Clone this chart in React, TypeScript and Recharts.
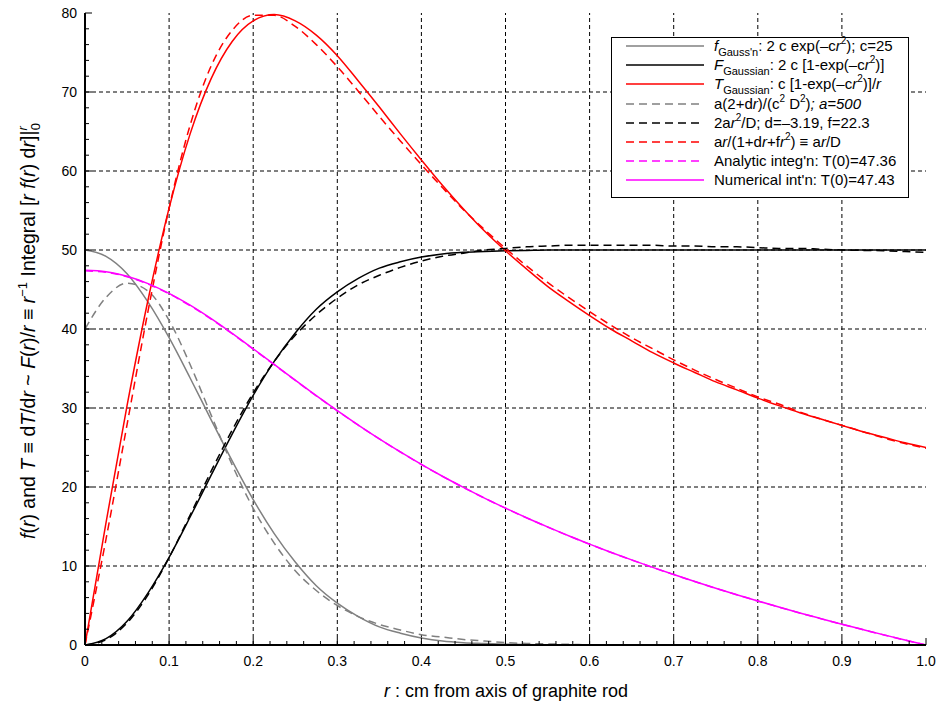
import React from 'react';
import { LineChart, Line, XAxis, YAxis, ReferenceLine } from 'recharts';

// r in cm, sampled every 0.025
const R = [
  0, 0.025, 0.05, 0.075, 0.1, 0.125, 0.15, 0.175, 0.2, 0.225, 0.25, 0.275, 0.3, 0.325,
  0.35, 0.375, 0.4, 0.425, 0.45, 0.475, 0.5, 0.525, 0.55, 0.575, 0.6, 0.625, 0.65, 0.675,
  0.7, 0.725, 0.75, 0.775, 0.8, 0.825, 0.85, 0.875, 0.9, 0.925, 0.95, 0.975, 1.0,
];

// gray solid: f Gauss'n
const F_GAUSS_N = [
  50, 49.2, 47.0, 43.4, 38.9, 33.8, 28.5, 23.3, 18.4, 14.1, 10.5, 7.5, 5.3, 3.6, 2.3, 1.5,
  0.9, 0.5, 0.3, 0.2, 0.1, 0.05, 0.03, 0.01, 0,
];
// gray dashed: a(2+dr)/(c^2 D^2)
const F_FIT = [
  40.0, 44.0, 45.8, 44.8, 41.1, 35.5, 29.1, 22.8, 17.3, 12.9, 9.4, 6.9, 5.0, 3.6, 2.6, 1.9,
  1.3, 1.0, 0.7, 0.5, 0.3, 0.2, 0.14, 0.08, 0.03,
];
// black solid: F Gaussian
const BIG_F_GAUSS = [
  0, 0.8, 3.0, 6.6, 11.1, 16.2, 21.5, 26.7, 31.6, 35.9, 39.5, 42.5, 44.7, 46.4, 47.7, 48.5,
  49.1, 49.5, 49.7, 49.8, 49.9, 49.95, 50, 50, 50, 50, 50, 50, 50, 50, 50, 50, 50, 50, 50,
  50, 50, 50, 50, 50, 50,
];
// black dashed: 2ar^2/D
const BIG_F_FIT = [
  0, 0.67, 2.79, 6.35, 11.06, 16.45, 22.0, 27.2, 31.9, 35.9, 39.2, 41.8, 43.9, 45.6, 46.8,
  47.8, 48.6, 49.2, 49.6, 50.0, 50.2, 50.4, 50.5, 50.6, 50.6, 50.6, 50.6, 50.6, 50.5, 50.5,
  50.4, 50.4, 50.3, 50.2, 50.2, 50.1, 50.0, 49.95, 49.9, 49.8, 49.7,
];
// red solid: T Gaussian
const T_GAUSS = [
  0, 15.5, 30.3, 43.7, 55.3, 64.7, 71.7, 76.4, 79.0, 79.8, 79.0, 77.2, 74.6, 71.4, 68.1,
  64.7, 61.4, 58.2, 55.2, 52.4, 49.9, 47.6, 45.4, 43.5, 41.7, 40.0, 38.5, 37.0, 35.7, 34.5,
  33.3, 32.3, 31.25, 30.3, 29.4, 28.6, 27.8, 27.0, 26.3, 25.6, 25.0,
];
// red dashed: ar/(1+dr+fr^2)
const T_FIT = [
  0, 13.4, 27.9, 42.3, 55.3, 65.8, 73.3, 77.8, 79.7, 79.7, 78.3, 76.0, 73.2, 70.1, 66.9,
  63.8, 60.8, 57.9, 55.1, 52.6, 50.2, 48.0, 45.9, 44.0, 42.2, 40.5, 38.9, 37.5, 36.1, 34.8,
  33.6, 32.5, 31.4, 30.5, 29.5, 28.6, 27.8, 27.0, 26.2, 25.5, 24.9,
];
// magenta dashed: analytic integration
const T_ANALYTIC = [
  47.36, 47.19, 46.61, 45.68, 44.45, 42.95, 41.25, 39.40, 37.45, 35.48, 33.49, 31.54, 29.65,
  27.82, 26.08, 24.43, 22.85, 21.35, 19.94, 18.59, 17.32, 16.10, 14.94, 13.82, 12.76, 11.74,
  10.76, 9.82, 8.91, 8.03, 7.18, 6.36, 5.57, 4.80, 4.05, 3.33, 2.62, 1.94, 1.27, 0.62, 0,
];
// magenta solid: numerical integration
const T_NUMERIC = [
  47.43, 47.26, 46.68, 45.75, 44.51, 43.01, 41.30, 39.44, 37.49, 35.51, 33.52, 31.56, 29.67,
  27.84, 26.09, 24.44, 22.86, 21.36, 19.95, 18.60, 17.33, 16.11, 14.95, 13.83, 12.77, 11.75,
  10.77, 9.83, 8.92, 8.04, 7.19, 6.37, 5.58, 4.81, 4.06, 3.34, 2.63, 1.95, 1.28, 0.63, 0,
];

const X_GRID = [0.1, 0.2, 0.3, 0.4, 0.5, 0.6, 0.7, 0.8, 0.9];
const Y_GRID = [10, 20, 30, 40, 50, 60, 70];
const X_TICKS = [
  0, 0.02, 0.04, 0.06, 0.08, 0.1, 0.12, 0.14, 0.16, 0.18, 0.2, 0.22, 0.24, 0.26, 0.28, 0.3,
  0.32, 0.34, 0.36, 0.38, 0.4, 0.42, 0.44, 0.46, 0.48, 0.5, 0.52, 0.54, 0.56, 0.58, 0.6, 0.62,
  0.64, 0.66, 0.68, 0.7, 0.72, 0.74, 0.76, 0.78, 0.8, 0.82, 0.84, 0.86, 0.88, 0.9, 0.92, 0.94,
  0.96, 0.98, 1.0,
];
const Y_TICKS = [
  0, 2, 4, 6, 8, 10, 12, 14, 16, 18, 20, 22, 24, 26, 28, 30, 32, 34, 36, 38, 40, 42, 44, 46,
  48, 50, 52, 54, 56, 58, 60, 62, 64, 66, 68, 70, 72, 74, 76, 78, 80,
];

const GRAY = '#808080';
const RED = '#ff0000';
const MAGENTA = '#ff00ff';
const DASH = '8 5';

const data = R.map((r, i) => ({
  r,
  fGauss: F_GAUSS_N[i] ?? null,
  fFit: F_FIT[i] ?? null,
  FGauss: BIG_F_GAUSS[i],
  FFit: BIG_F_FIT[i],
  TGauss: T_GAUSS[i],
  TFit: T_FIT[i],
  TAnalytic: T_ANALYTIC[i],
  TNumeric: T_NUMERIC[i],
}));

const majorX = (v: number) => Math.abs(v * 10 - Math.round(v * 10)) < 1e-6;
const majorY = (v: number) => v % 10 === 0;
const fmtX = (v: number) => (v === 0 ? '0' : v.toFixed(1));

function BottomTick({ x, y, payload }: any) {
  const m = majorX(payload.value);
  return (
    <g>
      <line x1={x} x2={x} y1={y} y2={y - (m ? 7 : 4)} stroke="#000" />
      {m && (
        <text x={x} y={y + 21} textAnchor="middle" fontSize={14} fill="#000">
          {fmtX(payload.value)}
        </text>
      )}
    </g>
  );
}

function TopTick({ x, y, payload }: any) {
  const m = majorX(payload.value);
  return <line x1={x} x2={x} y1={y} y2={y + (m ? 7 : 4)} stroke="#000" />;
}

function LeftTick({ x, y, payload }: any) {
  const m = majorY(payload.value);
  return (
    <g>
      <line x1={x} x2={x + (m ? 7 : 4)} y1={y} y2={y} stroke="#000" />
      {m && (
        <text x={x - 8} y={y} dy="0.35em" textAnchor="end" fontSize={14} fill="#000">
          {payload.value}
        </text>
      )}
    </g>
  );
}

function RightTick({ x, y, payload }: any) {
  const m = majorY(payload.value);
  return <line x1={x} x2={x - (m ? 7 : 4)} y1={y} y2={y} stroke="#000" />;
}

function YTitle() {
  const sm = 13;
  return (
    <text transform="translate(35,331) rotate(-90)" textAnchor="middle" fontSize={19.5} fill="#000">
      <tspan fontStyle="italic">f</tspan>(<tspan fontStyle="italic">r</tspan>) and{' '}
      <tspan fontStyle="italic">T</tspan> ≡ d<tspan fontStyle="italic">T</tspan>/d
      <tspan fontStyle="italic">r</tspan> ~ <tspan fontStyle="italic">F</tspan>(
      <tspan fontStyle="italic">r</tspan>)/<tspan fontStyle="italic">r</tspan> ≡{' '}
      <tspan fontStyle="italic">r</tspan>
      <tspan dy={-8} fontSize={sm}>−1</tspan>
      <tspan dy={8}> Integral [</tspan>
      <tspan fontStyle="italic">r f</tspan>(<tspan fontStyle="italic">r</tspan>) d
      <tspan fontStyle="italic">r</tspan>]|
      <tspan dy={-8} fontSize={sm} fontStyle="italic">r</tspan>
      <tspan dx={-4} dy={13} fontSize={sm}>0</tspan>
    </text>
  );
}

function XTitle() {
  return (
    <text x={506} y={697} textAnchor="middle" fontSize={18} fill="#000">
      <tspan fontStyle="italic">r</tspan> :  cm from axis of graphite rod
    </text>
  );
}

const Sub = ({ children }: any) => (
  <span style={{ fontSize: 11, position: 'relative', top: 5 }}>{children}</span>
);
const Sup = ({ children }: any) => (
  <span style={{ fontSize: 10, position: 'relative', top: -7 }}>{children}</span>
);
const I = ({ children }: any) => <i>{children}</i>;

const LEGEND = [
  {
    color: GRAY,
    dash: undefined,
    label: (
      <>
        <I>f</I>
        <Sub>Gauss'n</Sub>: 2 c exp(–c<I>r</I>
        <Sup>2</Sup>); c=25
      </>
    ),
  },
  {
    color: '#000',
    dash: undefined,
    label: (
      <>
        <I>F</I>
        <Sub>Gaussian</Sub>: 2 c [1-exp(–c<I>r</I>
        <Sup>2</Sup>)]
      </>
    ),
  },
  {
    color: RED,
    dash: undefined,
    label: (
      <>
        <I>T</I>
        <Sub>Gaussian</Sub>: c [1-exp(–c<I>r</I>
        <Sup>2</Sup>)]/<I>r</I>
      </>
    ),
  },
  {
    color: GRAY,
    dash: DASH,
    label: (
      <>
        a(2+d<I>r</I>)/(c<Sup>2</Sup> D<Sup>2</Sup>)<I>; a=500</I>
      </>
    ),
  },
  {
    color: '#000',
    dash: DASH,
    label: (
      <>
        2a<I>r</I>
        <Sup>2</Sup>/D; d=–3.19, f=22.3
      </>
    ),
  },
  {
    color: RED,
    dash: DASH,
    label: (
      <>
        a<I>r</I>/(1+d<I>r</I>+f<I>r</I>
        <Sup>2</Sup>) ≡ a<I>r</I>/D
      </>
    ),
  },
  { color: MAGENTA, dash: DASH, label: <>Analytic integ'n: T(0)=47.36</> },
  { color: MAGENTA, dash: undefined, label: <>Numerical int'n: T(0)=47.43</> },
];

function LegendBox() {
  return (
    <div
      style={{
        position: 'absolute',
        left: 611,
        top: 37,
        width: 296,
        height: 159,
        border: '1px solid #000',
        background: '#fff',
        fontSize: 15,
      }}
    >
      {LEGEND.map((it, i) => (
        <div
          key={i}
          style={{
            position: 'absolute',
            left: 0,
            top: 8 + i * 19.2 - 10,
            height: 20,
            lineHeight: '20px',
            whiteSpace: 'nowrap',
          }}
        >
          <svg width={80} height={20} style={{ position: 'absolute', left: 13, top: 0 }}>
            <line x1={1} x2={79} y1={10} y2={10} stroke={it.color} strokeWidth={1.5} strokeDasharray={it.dash} />
          </svg>
          <span style={{ position: 'absolute', left: 102, top: 0 }}>{it.label}</span>
        </div>
      ))}
    </div>
  );
}

export default function App() {
  return (
    <div
      style={{
        position: 'absolute',
        left: 0,
        top: 0,
        width: 940,
        height: 711,
        background: '#fff',
        fontFamily: '"Liberation Sans", Arial, sans-serif',
      }}
    >
      <LineChart width={940} height={711} data={data} margin={{ top: 13, right: 14, bottom: 36, left: 25 }}>
        <XAxis
          dataKey="r"
          type="number"
          domain={[0, 1]}
          allowDataOverflow
          ticks={X_TICKS}
          interval={0}
          height={30}
          tickSize={0}
          tickMargin={0}
          tickLine={false}
          tick={<BottomTick />}
          axisLine={{ stroke: '#000', strokeWidth: 2 }}
          label={<XTitle />}
        />
        <XAxis
          xAxisId="top"
          orientation="top"
          dataKey="r"
          type="number"
          domain={[0, 1]}
          allowDataOverflow
          ticks={X_TICKS}
          interval={0}
          height={0}
          tickSize={0}
          tickMargin={0}
          tickLine={false}
          tick={<TopTick />}
          axisLine={{ stroke: '#000', strokeWidth: 2 }}
        />
        <YAxis
          type="number"
          domain={[0, 80]}
          allowDataOverflow
          ticks={Y_TICKS}
          interval={0}
          width={60}
          tickSize={0}
          tickMargin={0}
          tickLine={false}
          tick={<LeftTick />}
          axisLine={{ stroke: '#000', strokeWidth: 2 }}
          label={<YTitle />}
        />
        <YAxis
          yAxisId="right"
          orientation="right"
          type="number"
          domain={[0, 80]}
          allowDataOverflow
          ticks={Y_TICKS}
          interval={0}
          width={0}
          tickSize={0}
          tickMargin={0}
          tickLine={false}
          tick={<RightTick />}
          axisLine={{ stroke: '#000', strokeWidth: 2 }}
        />
        {X_GRID.map((v) => (
          <ReferenceLine key={'x' + v} x={v} stroke="#000" strokeDasharray="4 3" strokeWidth={1} />
        ))}
        {Y_GRID.map((v) => (
          <ReferenceLine key={'y' + v} y={v} stroke="#000" strokeDasharray="4 3" strokeWidth={1} />
        ))}
        <Line type="monotone" dataKey="fGauss" stroke={GRAY} strokeWidth={1.5} dot={false} isAnimationActive={false} />
        <Line type="monotone" dataKey="FGauss" stroke="#000" strokeWidth={1.5} dot={false} isAnimationActive={false} />
        <Line type="monotone" dataKey="TGauss" stroke={RED} strokeWidth={1.5} dot={false} isAnimationActive={false} />
        <Line type="monotone" dataKey="fFit" stroke={GRAY} strokeWidth={1.5} strokeDasharray={DASH} dot={false} isAnimationActive={false} />
        <Line type="monotone" dataKey="FFit" stroke="#000" strokeWidth={1.5} strokeDasharray={DASH} dot={false} isAnimationActive={false} />
        <Line type="monotone" dataKey="TFit" stroke={RED} strokeWidth={1.5} strokeDasharray={DASH} dot={false} isAnimationActive={false} />
        <Line type="monotone" dataKey="TAnalytic" stroke={MAGENTA} strokeWidth={1.5} strokeDasharray={DASH} dot={false} isAnimationActive={false} />
        <Line type="monotone" dataKey="TNumeric" stroke={MAGENTA} strokeWidth={1.5} dot={false} isAnimationActive={false} />
      </LineChart>
      <LegendBox />
    </div>
  );
}
